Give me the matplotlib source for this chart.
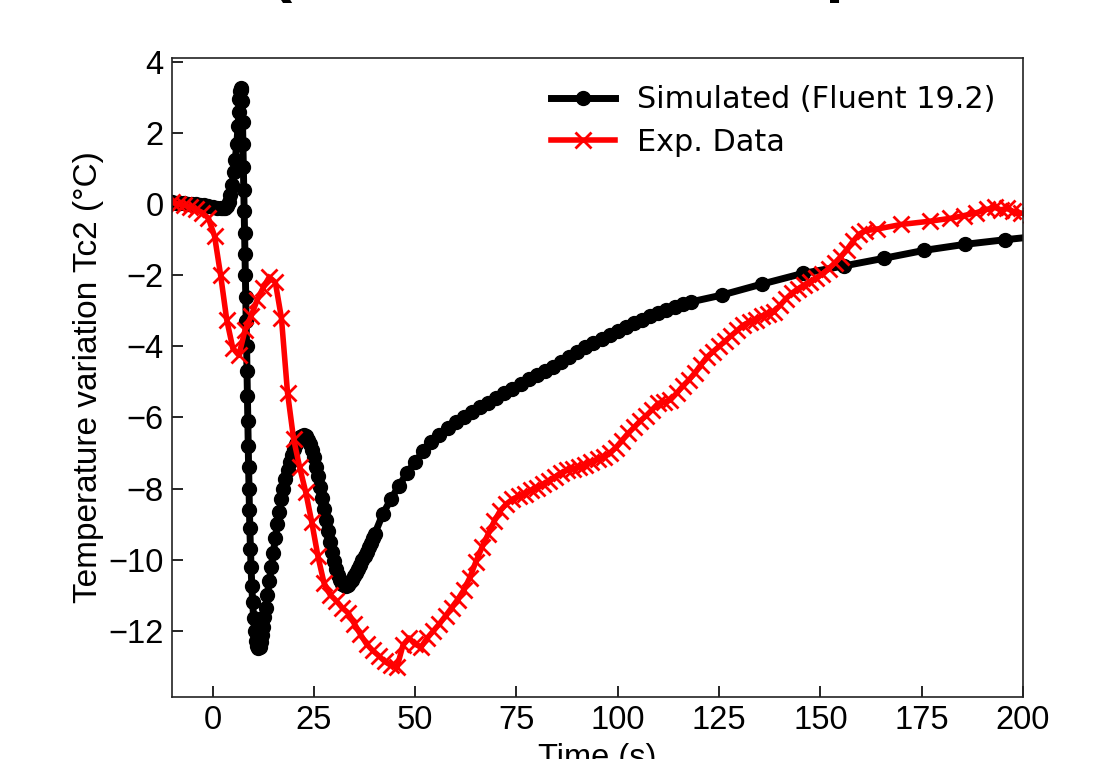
import matplotlib
matplotlib.use("Agg")
import matplotlib.pyplot as plt

# ── simulated Tc2 (Fluent 19.2) ──────────────────────────────────────────────
sim_time = [
    -10, -9, -8, -7, -6, -5, -4, -3, -2, -1, 0, 1, 2, 2.5, 3,
    3.5, 4.0, 4.4, 4.8, 5.2, 5.6, 6.0, 6.3, 6.5, 6.65,
    6.8, 6.95, 7.1, 7.25, 7.4, 7.5, 7.6, 7.7, 7.8, 7.9,
    8.0, 8.1, 8.2, 8.3, 8.4, 8.5, 8.6, 8.7, 8.8, 8.9,
    9.0, 9.1, 9.2, 9.35, 9.5, 9.7, 9.9, 10.15, 10.4, 10.7,
    11.0, 11.3, 11.6, 11.9, 12.2, 12.5, 12.8, 13.1, 13.5,
    14, 14.5, 15, 15.5, 16, 16.5, 17, 17.5, 18, 18.5,
    19, 19.5, 20, 20.5, 21, 21.5, 22, 22.5, 23, 23.5,
    24, 24.5, 25, 25.5, 26, 26.5, 27, 27.5, 28, 28.5,
    29, 29.5, 30, 30.5, 31, 31.5, 32, 32.5, 33, 33.5,
    34, 34.5, 35, 35.5, 36, 36.5, 37, 37.5, 38, 38.5,
    39, 39.5, 40,
    42, 44, 46, 48, 50, 52, 54, 56, 58, 60,
    62, 64, 66, 68, 70, 72, 74, 76, 78, 80,
    82, 84, 86, 88, 90, 92, 94, 96, 98, 100,
    102, 104, 106, 108, 110, 112, 114, 116, 118,
    125.6, 135.5, 145.6, 155.7, 165.8, 175.6, 185.7, 195.6, 205.7,
]
sim_temp = [
    0.05, 0.04, 0.03, 0.02, 0.01, 0.0, -0.01, -0.02, -0.03, -0.05, -0.07, -0.1, -0.12, -0.12, -0.1,
    -0.04, 0.05, 0.25, 0.55, 0.9, 1.25, 1.7, 2.2, 2.6, 2.95,
    3.18, 3.27, 3.2, 2.9, 2.3, 1.7, 1.05, 0.4, -0.2, -0.8,
    -1.4, -2.0, -2.6, -3.3, -4.0, -4.7, -5.4, -6.1, -6.8, -7.4,
    -8.0, -8.6, -9.1, -9.7, -10.2, -10.75, -11.2, -11.65, -12.0, -12.28,
    -12.43, -12.48, -12.45, -12.32, -12.12, -11.88, -11.62, -11.35, -11.0,
    -10.6, -10.2, -9.8, -9.4, -9.0, -8.65, -8.3, -8.0, -7.72, -7.48,
    -7.25, -7.05, -6.88, -6.75, -6.64, -6.56, -6.51, -6.5, -6.53, -6.62,
    -6.75, -6.92, -7.12, -7.38, -7.65, -7.95, -8.25, -8.57, -8.88, -9.2,
    -9.5, -9.78, -10.03, -10.25, -10.43, -10.57, -10.67, -10.72, -10.73, -10.7,
    -10.64, -10.56, -10.47, -10.37, -10.26, -10.14, -10.02, -9.9, -9.78, -9.65,
    -9.53, -9.4, -9.28,
    -8.72, -8.3, -7.92, -7.56, -7.24, -6.95, -6.7, -6.48, -6.3, -6.14,
    -5.99, -5.85, -5.71, -5.58, -5.45, -5.32, -5.19, -5.06, -4.93, -4.81,
    -4.69, -4.57, -4.43, -4.29, -4.15, -4.03, -3.91, -3.79, -3.67, -3.56,
    -3.45, -3.35, -3.25, -3.15, -3.06, -2.97, -2.89, -2.82, -2.75,
    -2.56, -2.25, -1.95, -1.74, -1.52, -1.3, -1.13, -1.0, -0.88,
]

# ── experimental Tc2 ─────────────────────────────────────────────────────────
exp_time = [
    -10, -8.5, -7, -5.5, -4, -2.5, -1, 0.5, 2, 3.5,
    5, 6.5, 8, 9.5, 11, 12.5, 14, 15.5, 17, 18.5,
    20, 21.5, 23, 24.5, 26, 27.5, 29, 30.5, 32, 33.5,
    35, 36.5, 38, 39.5, 41, 42.5, 44, 45.5, 47, 48.5,
    50, 51.5, 53, 54.5, 56, 57.5, 59, 60.5, 62, 63.5,
    65, 66.5, 68, 69.5, 71, 72.5, 74, 75.5, 77, 78.5,
    80, 81.5, 83, 84.5, 86, 87.5, 89, 90.5, 92, 93.5,
    95, 96.5, 98, 99.5, 101, 102.5, 104, 105.5, 107, 108.5,
    110, 111.5, 113, 114.5, 116, 117.5, 119, 120.5, 122, 123.5,
    125, 126.5, 128, 129.5, 131, 132.5, 134, 135.5, 137, 138.5,
    140, 141.5, 143, 144.5, 146, 147.5, 149, 150.5, 152, 153.5,
    155, 156.5, 158, 159.5,
    161, 164, 170, 177, 182, 185.5, 188.5, 191, 193, 194.5,
    196, 197.5, 199.5, 202,
]
exp_temp = [
    0.05, 0.01, -0.03, -0.08, -0.15, -0.24, -0.4, -0.9, -2.0, -3.25,
    -4.05, -4.25, -3.55, -3.15, -2.7, -2.35, -2.05, -2.2, -3.2, -5.3,
    -6.6, -7.4, -8.1, -8.95, -9.9, -10.65, -10.98, -11.15, -11.35, -11.5,
    -11.8, -12.1, -12.37, -12.55, -12.7, -12.86, -12.97, -13.03, -12.4, -12.2,
    -12.38, -12.45, -12.2, -12.0, -11.8, -11.58, -11.35, -11.12, -10.85, -10.5,
    -10.05, -9.65, -9.28, -8.92, -8.62, -8.43, -8.3, -8.22, -8.15, -8.05,
    -7.97, -7.88, -7.78, -7.67, -7.56, -7.48, -7.44, -7.39, -7.34, -7.25,
    -7.18, -7.11, -7.0, -6.85, -6.65, -6.45, -6.28, -6.1, -5.95, -5.78,
    -5.6, -5.57, -5.5, -5.32, -5.12, -4.95, -4.75, -4.52, -4.3, -4.15,
    -4.0, -3.85, -3.7, -3.55, -3.4, -3.31, -3.27, -3.15, -3.1, -3.02,
    -2.85, -2.66, -2.5, -2.38, -2.28, -2.18, -2.08, -1.96, -1.82, -1.66,
    -1.48, -1.28, -1.05, -0.85,
    -0.75, -0.7, -0.57, -0.48, -0.4, -0.32, -0.24, -0.15, -0.09, -0.16,
    -0.12, -0.2, -0.25, -0.3,
]

ARIAL = 'Liberation Sans'
FS = 23.5

fig = plt.figure(figsize=(11.09, 7.59), dpi=100)
ax = fig.add_axes([0.1551, 0.0817, 0.7674, 0.8419])

ax.plot(sim_time, sim_temp, color='black', lw=5, marker='o', ms=10,
        label='Simulated (Fluent 19.2)')
ax.plot(exp_time, exp_temp, color='red', lw=4, marker='x', ms=11, mew=2,
        label='Exp. Data')

ax.set_xlim(-10, 200)
ax.set_ylim(-13.86, 4.11)
ax.set_xticks([0, 25, 50, 75, 100, 125, 150, 175, 200])
ax.set_yticks([-12, -10, -8, -6, -4, -2, 0, 2, 4])
ax.tick_params(direction='in', length=8, width=1.2, pad=6,
               top=False, right=False, labelsize=FS)
for lab in ax.get_xticklabels() + ax.get_yticklabels():
    lab.set_fontfamily(ARIAL)

ax.set_xlabel('Time (s)', fontsize=FS, fontfamily=ARIAL, labelpad=5)
ax.set_ylabel('Temperature variation Tc2 (°C)', fontsize=FS + 0.5,
              fontfamily=ARIAL, labelpad=3)

for sp in ax.spines.values():
    sp.set_edgecolor('#222222'); sp.set_linewidth(1.2)

ax.legend(loc='upper right', frameon=False, fontsize=21.8,
          handlelength=2.1, handletextpad=0.75, labelspacing=0.45,
          borderaxespad=0.5)

# title sits above the visible canvas; only its descenders show
fig.text(270 / 1109, 1 + 11 / 759, '(Simulation vs Experiment',
         fontsize=48, fontweight='bold', fontfamily=ARIAL,
         ha='left', va='baseline')

fig.savefig('out.png', dpi=100)
